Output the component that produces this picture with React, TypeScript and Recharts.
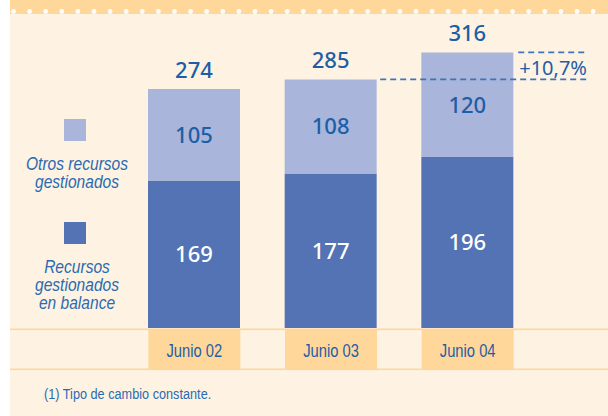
import React from 'react';
import { BarChart, Bar, XAxis, YAxis, LabelList, ReferenceLine } from 'recharts';

const categories = ['Junio 02', 'Junio 03', 'Junio 04'];
const balanceValues = [169, 177, 196];
const otrosValues = [105, 108, 120];
const totalValues = [274, 285, 316];
const growthLabel = '+10,7%';
const legendOtros = ['Otros recursos', 'gestionados'];
const legendBalance = ['Recursos', 'gestionados', 'en balance'];
const footnote = '(1)  Tipo de cambio constante.';

const data = categories.map((c, i) => ({
  idx: i,
  name: c,
  balance: balanceValues[i],
  otros: otrosValues[i],
  total: totalValues[i],
}));

const W = 608;
const H = 416;
const DARK = '#5373B5';
const LIGHT = '#A9B5DA';
const ORANGE = '#FFD79B';
const CREAM = '#FEF3E3';
const BLUE = '#1D5EA6';
const LBLUE = '#2B6AB0';
const NUM_FONT = '"Noto Sans", "Open Sans", sans-serif';
const SANS = '"Liberation Sans", Arial, sans-serif';

const NarrowText = ({ x, y, size, italic, anchor, fill, children }: any) => (
  <g transform={`translate(${x},${y}) scale(0.82,1)`}>
    <text
      x={0}
      y={0}
      textAnchor={anchor || 'middle'}
      dominantBaseline="central"
      fontFamily={SANS}
      fontStyle={italic ? 'italic' : 'normal'}
      fontSize={size}
      fill={fill}
    >
      {children}
    </text>
  </g>
);

const CategoryTick = (props: any) => {
  const { x, y, payload } = props;
  return (
    <g>
      <rect x={x - 46} y={y + 2} width={92} height={39} fill={ORANGE} />
      <NarrowText x={x} y={y + 22} size={18} fill={BLUE}>
        {categories[payload.value]}
      </NarrowText>
    </g>
  );
};

const GrowthLabel = (props: any) => {
  const vb = props.viewBox || {};
  const cx = vb.x + (vb.width || 0) / 2;
  return (
    <text
      x={cx}
      y={vb.y + 15}
      textAnchor="middle"
      dominantBaseline="central"
      fontFamily={NUM_FONT}
      fontSize={20}
      fill={BLUE}
    >
      {growthLabel}
    </text>
  );
};

const Background = () => {
  const dots = [];
  for (let i = 0; i < 37; i++) {
    dots.push(<circle key={i} cx={13.5 + i * 16.1} cy={11.5} r={2.4} fill="#ffffff" />);
  }
  return (
    <svg width={W} height={H} style={{ position: 'absolute', left: 0, top: 0 }}>
      <rect x={0} y={0} width={W} height={H} fill="#ffffff" />
      <rect x={10} y={0} width={W - 10} height={H} fill={CREAM} />
      <rect x={10} y={0} width={W - 10} height={14} fill={ORANGE} />
      {dots}
      <rect x={10} y={328.5} width={W - 10} height={1.6} fill={ORANGE} />
      <rect x={10} y={368.5} width={W - 10} height={1.6} fill={ORANGE} />
      <rect x={64} y={119} width={22} height={22} fill={LIGHT} />
      <rect x={64} y={222} width={22} height={22} fill={DARK} />
      {legendOtros.map((t, i) => (
        <NarrowText key={'o' + i} x={77} y={163 + i * 18.5} size={19} italic fill={LBLUE}>{t}</NarrowText>
      ))}
      {legendBalance.map((t, i) => (
        <NarrowText key={'b' + i} x={77} y={266 + i * 18} size={19} italic fill={LBLUE}>{t}</NarrowText>
      ))}
      <NarrowText x={44} y={394} size={15.5} anchor="start" fill={LBLUE}>
        {footnote}
      </NarrowText>
    </svg>
  );
};

export default function App() {
  return (
    <div style={{ position: 'absolute', left: 0, top: 0, width: W, height: H }}>
      <Background />
      <div style={{ position: 'absolute', left: 0, top: 0 }}>
        <BarChart
          width={W}
          height={H}
          data={data}
          margin={{ top: 14, right: 72, bottom: 48, left: 126 }}
        >
          <XAxis
            dataKey="idx"
            type="number"
            domain={[-0.5, 2.5]}
            ticks={[0, 1, 2]}
            allowDataOverflow
            axisLine={false}
            tickLine={false}
            tickSize={0}
            tickMargin={0}
            height={40}
            tick={<CategoryTick />}
            interval={0}
          />
          <YAxis hide domain={[0, 360]} />
          <Bar dataKey="balance" stackId="a" fill={DARK} barSize={92} isAnimationActive={false}>
            <LabelList dataKey="balance" position="center" fill="#ffffff"
              style={{ fontFamily: NUM_FONT, fontSize: 22, fontWeight: 500 }} />
          </Bar>
          <Bar dataKey="otros" stackId="a" fill={LIGHT} barSize={92} isAnimationActive={false}>
            <LabelList dataKey="otros" position="center" fill={BLUE}
              style={{ fontFamily: NUM_FONT, fontSize: 22, fontWeight: 500 }} />
            <LabelList dataKey="total" position="top" offset={11} fill={BLUE}
              style={{ fontFamily: NUM_FONT, fontSize: 22, fontWeight: 500 }} />
          </Bar>
          <ReferenceLine
            segment={[{ x: 1.36, y: totalValues[1] }, { x: 2.88, y: totalValues[1] }]}
            stroke="#3E74B8"
            strokeWidth={1.6}
            strokeDasharray="6 4"
            ifOverflow="visible"
          />
          <ReferenceLine
            segment={[{ x: 2.37, y: totalValues[2] }, { x: 2.88, y: totalValues[2] }]}
            stroke="#3E74B8"
            strokeWidth={1.6}
            strokeDasharray="6 4"
            ifOverflow="visible"
            label={<GrowthLabel />}
          />
        </BarChart>
      </div>
    </div>
  );
}
